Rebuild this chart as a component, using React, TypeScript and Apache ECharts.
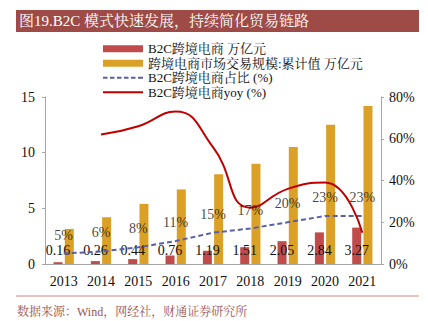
import React, { useEffect, useRef } from "react";
import * as echarts from "echarts";

const years = ["2013", "2014", "2015", "2016", "2017", "2018", "2019", "2020", "2021"];
const b2cValues = [0.16, 0.26, 0.44, 0.76, 1.19, 1.51, 2.05, 2.84, 3.27];
const totalValues = [3.15, 4.2, 5.4, 6.7, 8.06, 9.0, 10.5, 12.5, 14.2];
const sharePct = [5, 6, 8, 11, 15, 17, 20, 23, 23];
const yoyPct: (number | null)[] = [null, 62, 66, 73, 56, 27, 36, 39, 15];
const leftTicks = [0, 15, 5];
const rightTicks = [0, 80, 20];

const names = ["B2C跨境电商 万亿元", "跨境电商市场交易规模:累计值 万亿元", "B2C跨境电商占比 (%)", "B2C跨境电商yoy (%)"];
const FONT = "'Liberation Serif', 'Noto Serif CJK SC', 'Noto Sans CJK SC', serif";

const solidIcon = "path://M0 0h40v2H0z";
const dashedIcon =
  "path://M0 0h4.5v2H0zM7 0h4.5v2H7zM14 0h4.5v2H14zM21 0h4.5v2H21zM28 0h4.5v2H28zM35 0h5v2H35z";

export default function App() {
  const ref = useRef<HTMLDivElement>(null);
  useEffect(() => {
    const chart = echarts.init(ref.current!, null, { renderer: "svg" });
    chart.setOption({
      animation: false,
      textStyle: { fontFamily: FONT },
      grid: { left: 45, right: 47, top: 97, bottom: 57 },
      legend: {
        orient: "vertical",
        left: 98,
        top: 37,
        itemWidth: 40,
        itemHeight: 7,
        itemGap: 1,
        symbolKeepAspect: true,
        textStyle: { fontFamily: FONT, fontSize: 13, color: "#111", lineHeight: 13.5 },
        data: [
          { name: names[0], icon: "rect" },
          { name: names[1], icon: "rect" },
          { name: names[2], icon: dashedIcon },
          { name: names[3], icon: solidIcon },
        ],
      },
      xAxis: {
        type: "category",
        data: years,
        axisLine: { lineStyle: { color: "#a6a6a6" } },
        axisTick: { show: false },
        axisLabel: { fontFamily: FONT, fontSize: 14, color: "#111", margin: 10 },
      },
      yAxis: [
        {
          type: "value",
          min: leftTicks[0],
          max: leftTicks[1],
          interval: leftTicks[2],
          axisLine: { show: true, lineStyle: { color: "#a6a6a6" } },
          axisTick: { show: true, length: 3, lineStyle: { color: "#a6a6a6" } },
          splitLine: { show: false },
          axisLabel: { fontFamily: FONT, fontSize: 14, color: "#111", margin: 10 },
        },
        {
          type: "value",
          min: rightTicks[0],
          max: rightTicks[1],
          interval: rightTicks[2],
          position: "right",
          axisLine: { show: true, lineStyle: { color: "#a6a6a6" } },
          axisTick: { show: true, length: 3, lineStyle: { color: "#a6a6a6" } },
          splitLine: { show: false },
          axisLabel: { fontFamily: FONT, fontSize: 14, color: "#111", margin: 8, formatter: "{value}%" },
        },
      ],
      series: [
        {
          name: names[0],
          type: "bar",
          data: b2cValues,
          barWidth: 9,
          barGap: "25%",
          itemStyle: { color: "#bf4b4b" },
          label: {
            show: true,
            position: "insideBottom",
            distance: 7,
            fontFamily: FONT,
            fontSize: 14,
            color: "#111",
            formatter: (p: any) => p.value.toFixed(2),
          },
          z: 3,
        },
        {
          name: names[1],
          type: "bar",
          data: totalValues,
          barWidth: 9,
          itemStyle: { color: "#dba126" },
          z: 2,
        },
        {
          name: names[2],
          type: "line",
          yAxisIndex: 1,
          data: sharePct,
          symbol: "none",
          lineStyle: { color: "#5b5ea6", width: 2, type: [5, 3] },
          itemStyle: { color: "#5b5ea6" },
          z: 4,
        },
        {
          name: "share-labels",
          type: "scatter",
          yAxisIndex: 1,
          data: sharePct,
          symbolSize: 1,
          itemStyle: { color: "rgba(0,0,0,0)" },
          silent: true,
          label: {
            show: true,
            position: "top",
            distance: 11,
            fontFamily: FONT,
            fontSize: 14,
            color: "#111",
            formatter: "{c}%",
          },
          z: 6,
        },
        {
          name: names[3],
          type: "line",
          yAxisIndex: 1,
          data: yoyPct,
          smooth: 0.5,
          symbol: "none",
          lineStyle: { color: "#c00000", width: 2 },
          itemStyle: { color: "#c00000" },
          z: 5,
        },
      ],
      graphic: [
        { type: "rect", shape: { x: 16, y: 10, width: 403, height: 22 }, style: { fill: "#9e4b47" } },
        {
          type: "text",
          x: 19,
          y: 21,
          style: {
            text: "图19.B2C 模式快速发展，持续简化贸易链路",
            fill: "#fff",
            font: `15px ${FONT}`,
            verticalAlign: "middle",
          },
        },
        { type: "line", shape: { x1: 16, y1: 296, x2: 419, y2: 296 }, style: { stroke: "#c98a86", lineWidth: 1 } },
        {
          type: "text",
          x: 17,
          y: 312,
          style: {
            text: "数据来源：Wind，网经社，财通证券研究所",
            fill: "#a0524e",
            font: `12px ${FONT}`,
            verticalAlign: "middle",
          },
        },
      ],
    });
    return () => chart.dispose();
  }, []);
  return <div ref={ref} style={{ width: 428, height: 321, position: "absolute", left: 0, top: 0 }} />;
}
